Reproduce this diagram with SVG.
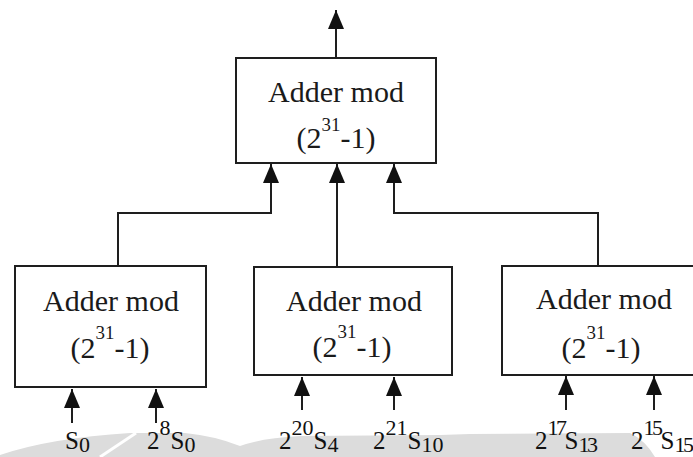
<svg xmlns="http://www.w3.org/2000/svg" width="693" height="457" viewBox="0 0 693 457">
  <style>
    .box rect { fill: #ffffff; stroke: #1e1e1e; stroke-width: 2; }
    .box text { font-size: 30px; fill: #1a1a1a; text-anchor: middle; }
    .box .sup { font-size: 19px; }
    .wire { fill: none; stroke: #1e1e1e; stroke-width: 2; }
    .lbl { font-size: 25px; fill: #111111; }
    .lbl .s { font-size: 22px; }
    .lbl .t { letter-spacing: -2.5px; }
  </style>
  <defs>
    <marker id="arrow" viewBox="0 0 19 16" refX="19" refY="8" markerWidth="19" markerHeight="16" markerUnits="userSpaceOnUse" orient="auto">
      <path d="M0,0 L19,8 L0,16 Z" fill="#111111"/>
    </marker>
  </defs>

  <rect width="693" height="457" fill="#ffffff"/>

  <!-- pale band along the bottom edge -->
  <g id="band">
    <path d="M0,457 L0,455 Q50,438 130,433 L185,433 Q215,436 240,446 Q262,438 300,436 L440,435 L470,434 L630,433 Q645,440 655,457 Z" fill="#dcdcdc"/>
    <path d="M100,457 L136,433" stroke="#ffffff" stroke-width="3" fill="none"/>
  </g>

  <g id="connectors">
    <path class="wire" d="M336,58 V10" marker-end="url(#arrow)"/>
    <path class="wire" d="M118,266 V213 H271 V164" marker-end="url(#arrow)"/>
    <path class="wire" d="M337,267 V164" marker-end="url(#arrow)"/>
    <path class="wire" d="M598,266 V213 H394 V164" marker-end="url(#arrow)"/>
    <path class="wire" d="M72,423 V389" marker-end="url(#arrow)"/>
    <path class="wire" d="M156,423 V389" marker-end="url(#arrow)"/>
    <path class="wire" d="M302,410 V377" marker-end="url(#arrow)"/>
    <path class="wire" d="M394,410 V377" marker-end="url(#arrow)"/>
    <path class="wire" d="M566,410 V376" marker-end="url(#arrow)"/>
    <path class="wire" d="M654,410 V376" marker-end="url(#arrow)"/>
  </g>

  <g id="adder-top" class="box" font-family="Liberation Serif, Times New Roman, serif">
    <rect x="236" y="58" width="200" height="105"/>
    <text x="336" y="102">Adder mod</text>
    <text x="336" y="148">(2<tspan class="sup" dy="-17">31</tspan><tspan dy="17">-1)</tspan></text>
  </g>

  <g id="adder-left" class="box" font-family="Liberation Serif, Times New Roman, serif">
    <rect x="15" y="266" width="191" height="121"/>
    <text x="111" y="311">Adder mod</text>
    <text x="110" y="358">(2<tspan class="sup" dy="-19">31</tspan><tspan dy="19">-1)</tspan></text>
  </g>

  <g id="adder-mid" class="box" font-family="Liberation Serif, Times New Roman, serif">
    <rect x="254" y="267" width="198" height="108"/>
    <text x="354" y="311">Adder mod</text>
    <text x="352" y="357">(2<tspan class="sup" dy="-19">31</tspan><tspan dy="19">-1)</tspan></text>
  </g>

  <g id="adder-right" class="box" font-family="Liberation Serif, Times New Roman, serif">
    <rect x="502" y="266" width="204" height="109"/>
    <text x="604" y="309">Adder mod</text>
    <text x="601" y="358">(2<tspan class="sup" dy="-19">31</tspan><tspan dy="19">-1)</tspan></text>
  </g>

  <g id="inputs" font-family="Liberation Serif, Times New Roman, serif">
    <text class="lbl" x="65" y="449">S<tspan class="s" dy="2.5">0</tspan></text>
    <text class="lbl" x="147" y="449">2<tspan class="s" dy="-14">8</tspan><tspan dy="14">S</tspan><tspan class="s" dy="2.5">0</tspan></text>
    <text class="lbl" x="279" y="449">2<tspan class="s" dy="-14">20</tspan><tspan dy="14">S</tspan><tspan class="s" dy="2.5">4</tspan></text>
    <text class="lbl" x="373" y="449">2<tspan class="s" dy="-14">21</tspan><tspan dy="14">S</tspan><tspan class="s" dy="2.5">10</tspan></text>
    <text class="lbl" x="535" y="449">2<tspan class="s t" dy="-14">17</tspan><tspan dy="14">S</tspan><tspan class="s t" dy="2.5">13</tspan></text>
    <text class="lbl" x="631" y="449">2<tspan class="s t" dy="-14">15</tspan><tspan dy="14">S</tspan><tspan class="s t" dy="2.5">15</tspan></text>
  </g>
</svg>
